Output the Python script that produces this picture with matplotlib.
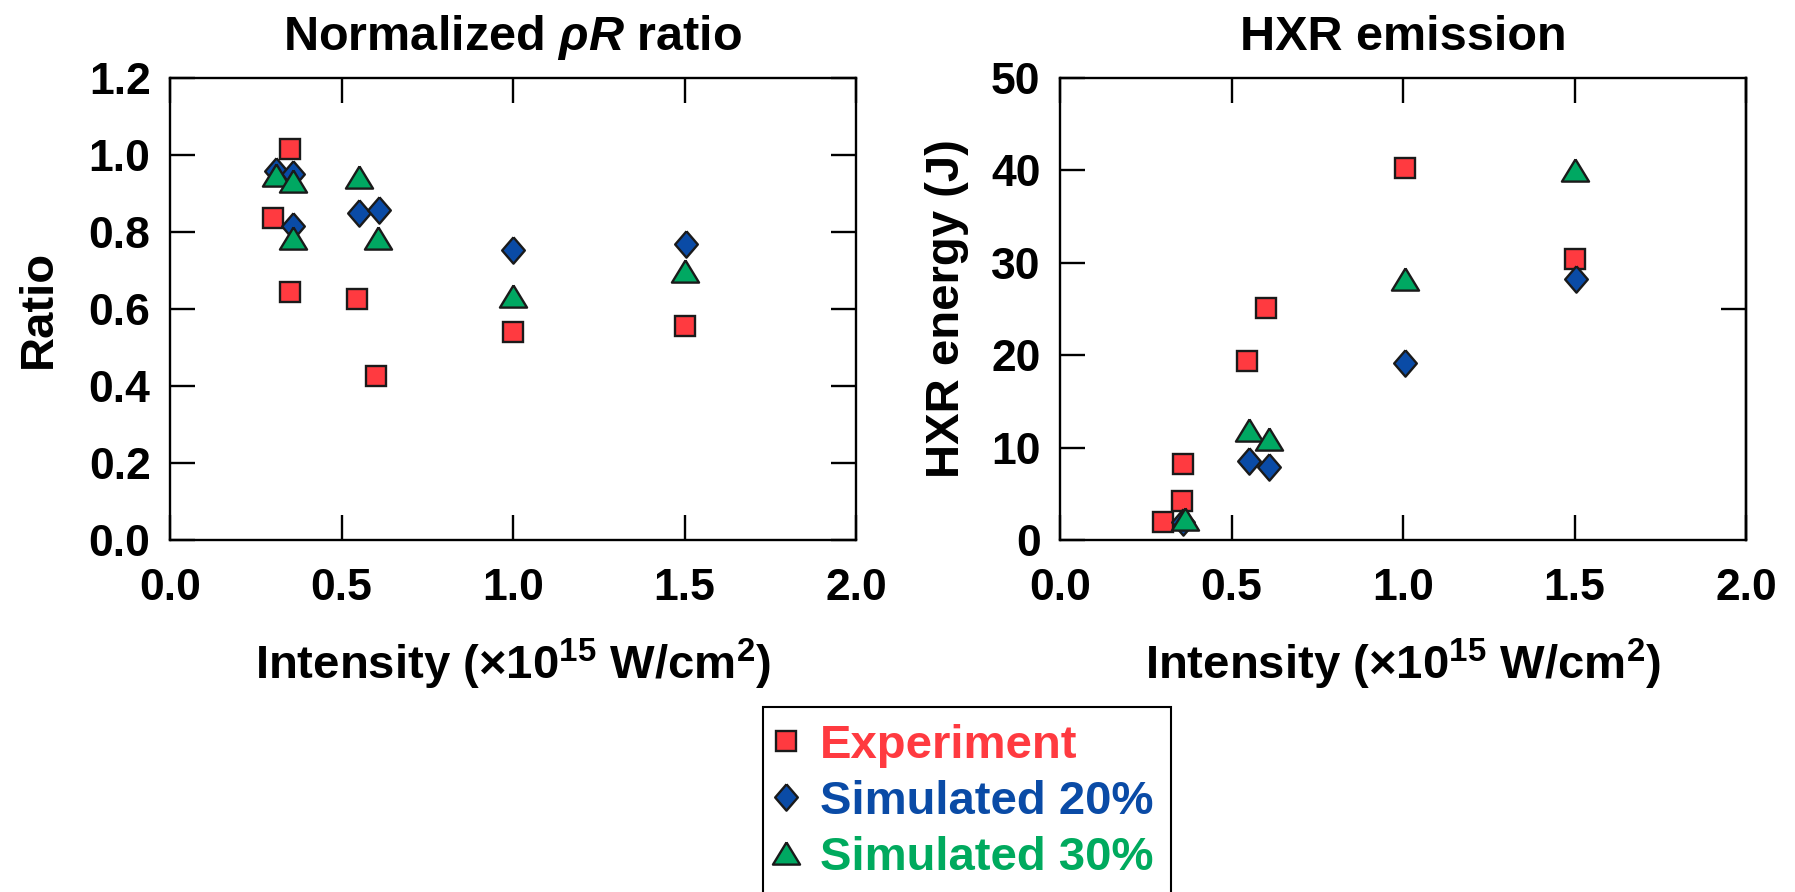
import matplotlib
matplotlib.use("Agg")
import matplotlib.pyplot as plt
from matplotlib.lines import Line2D

plt.rcParams['font.family'] = ['Liberation Sans', 'DejaVu Sans']
plt.rcParams['font.weight'] = 'bold'
plt.rcParams['axes.labelweight'] = 'bold'
plt.rcParams['axes.titleweight'] = 'bold'
plt.rcParams['mathtext.fontset'] = 'custom'
plt.rcParams['mathtext.rm'] = 'Liberation Sans:bold'
plt.rcParams['mathtext.it'] = 'Liberation Sans:italic:bold'
plt.rcParams['mathtext.bf'] = 'Liberation Sans:bold'

# ---- data: normalized rhoR ratio ----
exp_ratio_x = [0.30, 0.35, 0.35, 0.545, 0.60, 1.00, 1.50]
exp_ratio_y = [0.836, 1.016, 0.645, 0.626, 0.425, 0.541, 0.557]
sim20_ratio_x = [0.31, 0.36, 0.36, 0.55, 0.61, 1.00, 1.505]
sim20_ratio_y = [0.958, 0.951, 0.816, 0.849, 0.857, 0.754, 0.768]
sim30_ratio_x = [0.31, 0.36, 0.36, 0.55, 0.605, 1.00, 1.50]
sim30_ratio_y = [0.949, 0.932, 0.785, 0.943, 0.784, 0.635, 0.699]

# ---- data: HXR energy ----
exp_hxr_x = [0.30, 0.355, 0.36, 0.545, 0.60, 1.005, 1.50]
exp_hxr_y = [1.95, 4.2, 8.2, 19.4, 25.1, 40.3, 30.4]
sim20_hxr_x = [0.36, 0.55, 0.61, 1.005, 1.505]
sim20_hxr_y = [2.0, 8.5, 7.9, 19.15, 28.25]
sim30_hxr_x = [0.365, 0.55, 0.61, 1.005, 1.50]
sim30_hxr_y = [2.3, 11.95, 10.95, 28.3, 40.0]

labels = ['Experiment', 'Simulated 20%', 'Simulated 30%']
x_ticks = [0.0, 0.5, 1.0, 1.5, 2.0]
x_ticklabels = ['0.0', '0.5', '1.0', '1.5', '2.0']
ratio_ticks = [0.0, 0.2, 0.4, 0.6, 0.8, 1.0, 1.2]
ratio_ticklabels = ['0.0', '0.2', '0.4', '0.6', '0.8', '1.0', '1.2']
hxr_ticks = [0, 10, 20, 30, 40, 50]
hxr_ticklabels = ['0', '10', '20', '30', '40', '50']

RED = '#FF3A40'
BLUE = '#0A4BA6'
GREEN = '#00A862'
RED_T = '#FF3A40'
BLUE_T = '#0A4BA6'
GREEN_T = '#00AA5E'

sq_marker = 's'
dia_marker = [(0, 1), (0.86, 0), (0, -1), (-0.86, 0), (0, 1)]
tri_marker = [(0, 0.82), (1, -0.82), (-1, -0.82), (0, 0.82)]

styles = [
    dict(marker=sq_marker, ms=14, mfc=RED),
    dict(marker=dia_marker, ms=19, mfc=BLUE),
    dict(marker=tri_marker, ms=19.5, mfc=GREEN),
]
common = dict(linestyle='none', mec='#1a1a1a', mew=1.7)

fig = plt.figure(figsize=(17.95, 8.92), dpi=100)
W, H = 1795, 892
ax1 = fig.add_axes([170 / W, 1 - 540 / H, 686 / W, 462 / H])
ax2 = fig.add_axes([1060 / W, 1 - 540 / H, 686 / W, 462 / H])

TICK_FS = 32
LAB_FS = 34
TITLE_FS = 35

def style_axes(ax):
    for s in ax.spines.values():
        s.set_linewidth(1.7)
    ax.tick_params(direction='in', length=18, width=1.7, labelsize=TICK_FS,
                   top=True, right=False, pad=14)
    ax.tick_params(axis='x', pad=20)
    ax.set_xlim(0, 2.0)
    ax.set_xticks(x_ticks)
    ax.set_xticklabels(x_ticklabels)

# left panel
series1 = [(exp_ratio_x, exp_ratio_y), (sim20_ratio_x, sim20_ratio_y), (sim30_ratio_x, sim30_ratio_y)]
for (xs, ys), st in zip(series1, styles):
    ax1.plot(xs, ys, **common, **st, zorder=3)
style_axes(ax1)
ax1.set_ylim(0, 1.2)
ax1.set_yticks(ratio_ticks)
ax1.set_yticklabels(ratio_ticklabels)
ax1.tick_params(axis='y', right=True)
ax1.set_title(r'Normalized $\rho R$ ratio', fontsize=TITLE_FS, fontweight='bold', pad=20)
ax1.set_xlabel(r'Intensity (×10$^{\mathrm{15}}$ W/cm$^{\mathrm{2}}$)', fontsize=LAB_FS,
               fontweight='bold', labelpad=20)
ax1.set_ylabel('Ratio', fontsize=LAB_FS, fontweight='bold', labelpad=20)

# right panel
series2 = [(exp_hxr_x, exp_hxr_y), (sim20_hxr_x, sim20_hxr_y), (sim30_hxr_x, sim30_hxr_y)]
for (xs, ys), st in zip(series2, styles):
    ax2.plot(xs, ys, **common, **st, zorder=3)
style_axes(ax2)
ax2.set_ylim(0, 50)
ax2.set_yticks(hxr_ticks)
ax2.set_yticklabels(hxr_ticklabels)
sec = ax2.secondary_yaxis('right')
sec.set_yticks([25])
sec.tick_params(direction='in', length=18, width=1.7, labelright=False)
sec.spines['right'].set_linewidth(1.7)
ax2.set_title('HXR emission', fontsize=TITLE_FS, fontweight='bold', pad=20)
ax2.set_xlabel(r'Intensity (×10$^{\mathrm{15}}$ W/cm$^{\mathrm{2}}$)', fontsize=LAB_FS,
               fontweight='bold', labelpad=20)
ax2.set_ylabel('HXR energy (J)', fontsize=LAB_FS, fontweight='bold', labelpad=16)

handles = [Line2D([], [], **common, **st) for st in styles]
leg = fig.legend(handles, labels, loc='upper left',
                 bbox_to_anchor=(763 / W, 1 - 707 / H), borderaxespad=0,
                 frameon=True, fancybox=False,
                 edgecolor='black', framealpha=1, borderpad=0.36,
                 labelspacing=0.25, handlelength=0.25, handletextpad=0.6,
                 prop={'weight': 'bold', 'size': LAB_FS})
leg.get_frame().set_linewidth(1.5)
for t, c in zip(leg.get_texts(), [RED_T, BLUE_T, GREEN_T]):
    t.set_color(c)

fig.savefig('out.png', dpi=100)
